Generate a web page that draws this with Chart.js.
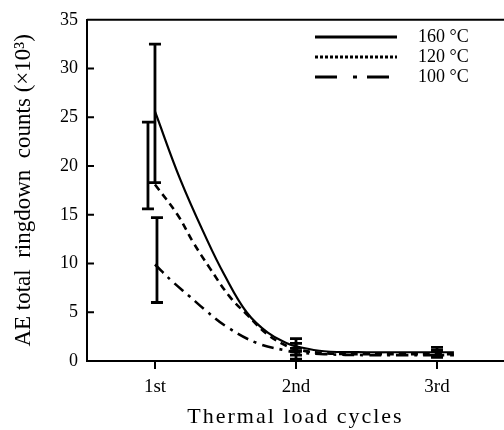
<!DOCTYPE html>
<html lang="en">
<head>
<meta charset="UTF-8">
<title>AE total ringdown counts</title>
<script src="https://cdn.jsdelivr.net/npm/chart.js"></script>
<style>
  body { margin: 0; background: #fff; }
  #wrap { width: 504px; height: 430px; }
</style>
</head>
<body>
<div id="wrap"><canvas id="aeChart" width="504" height="430"></canvas></div>
<script>
// cycles and ticks
const cycleLabels = ['1st', '2nd', '3rd'];
const cycleX = [1, 2, 3];
const yTicks = [0, 5, 10, 15, 20, 25, 30, 35];
const seriesNames = ['160 °C', '120 °C', '100 °C'];

// fitted curves
const curveX160 = [1.00, 1.18, 1.37, 1.49, 1.65, 1.80, 1.94, 2.00, 2.20, 2.50, 2.75, 3.00, 3.12];
const curveY160 = [25.6, 18.6, 12.4, 8.9, 5.0, 2.9, 1.8, 1.5, 1.0, 0.9, 0.9, 0.9, 0.9];
const curveX120 = [1.00, 1.16, 1.27, 1.39, 1.53, 1.65, 1.80, 1.94, 2.00, 2.20, 2.50, 2.75, 3.00, 3.12];
const curveY120 = [18.1, 15.0, 12.2, 9.5, 6.6, 4.8, 2.7, 1.5, 1.2, 0.8, 0.7, 0.7, 0.7, 0.7];
const curveX100 = [1.00, 1.12, 1.24, 1.35, 1.51, 1.73, 1.92, 2.00, 2.20, 2.50, 2.75, 3.00, 3.12];
const curveY100 = [9.9, 8.2, 6.7, 5.3, 3.5, 1.8, 1.1, 0.9, 0.7, 0.6, 0.6, 0.6, 0.6];

// error bar ranges at each cycle
const low160 = [18.3, 1.0, 0.5];
const high160 = [32.5, 2.3, 1.4];
const low120 = [15.6, 0.6, 0.4];
const high120 = [24.5, 1.8, 1.1];
const low100 = [6.0, 0.2, 0.4];
const high100 = [14.7, 1.3, 1.0];

const serif = 'Liberation Serif';

function pts(xs, ys) {
    return xs.map((v, i) => ({ x: v, y: ys[i] }));
}

const aeDecor = {
    id: 'aeDecor',
    afterDatasetsDraw(chart) {
        const { ctx, scales: { x, y } } = chart;
        ctx.save();
        ctx.strokeStyle = '#000';
        ctx.lineWidth = 2.8;
        chart.data.datasets.forEach(ds => {
            ds.errLow.forEach((lo, i) => {
                const px = x.getPixelForValue(cycleX[i]) + (i === 0 ? ds.errShift : 0);
                const y1 = y.getPixelForValue(lo);
                const y2 = y.getPixelForValue(ds.errHigh[i]);
                ctx.beginPath();
                ctx.moveTo(px, y1); ctx.lineTo(px, y2);
                ctx.moveTo(px - 6, y1); ctx.lineTo(px + 6, y1);
                ctx.moveTo(px - 6, y2); ctx.lineTo(px + 6, y2);
                ctx.stroke();
            });
        });
        ctx.restore();
    },
    afterDraw(chart) {
        const { ctx, chartArea: a, scales: { y } } = chart;
        ctx.save();
        ctx.strokeStyle = '#000';
        ctx.lineWidth = 2;
        ctx.beginPath();
        ctx.moveTo(a.left, a.top);
        ctx.lineTo(a.right, a.top);
        // y ticks point inward
        yTicks.forEach(v => {
            const py = y.getPixelForValue(v);
            ctx.moveTo(a.left, py);
            ctx.lineTo(a.left + 7, py);
        });
        ctx.stroke();

        // legend in the upper right
        ctx.fillStyle = '#000';
        ctx.font = '18px "' + serif + '"';
        ctx.textBaseline = 'middle';
        chart.data.datasets.forEach((ds, i) => {
            const ly = 37 + i * 20;
            ctx.lineWidth = 3;
            ctx.setLineDash(ds.legendDash);
            ctx.beginPath();
            ctx.moveTo(315, ly);
            ctx.lineTo(397, ly);
            ctx.stroke();
            ctx.setLineDash([]);
            ctx.fillText(ds.label, 418, ly);
        });

        // x axis title, spaced out like the original
        ctx.font = '22px "' + serif + '"';
        ctx.textAlign = 'center';
        ctx.letterSpacing = '2px';
        ctx.fillText('Thermal load cycles', (a.left + a.right) / 2, 417);
        ctx.restore();
    }
};

const ctx = document.getElementById('aeChart').getContext('2d');
const chart = new Chart(ctx, {
    type: 'line',
    data: {
        datasets: [
            {
                label: seriesNames[0],
                data: pts(curveX160, curveY160),
                borderColor: '#000',
                borderWidth: 2.2,
                errLow: low160, errHigh: high160, errShift: 0,
                legendDash: []
            },
            {
                label: seriesNames[1],
                data: pts(curveX120, curveY120),
                borderColor: '#000',
                borderWidth: 2.6,
                borderDash: [7, 5],
                errLow: low120, errHigh: high120, errShift: -7,
                legendDash: [3, 2]
            },
            {
                label: seriesNames[2],
                data: pts(curveX100, curveY100),
                borderColor: '#000',
                borderWidth: 2.6,
                borderDash: [12, 6, 3, 6],
                errLow: low100, errHigh: high100, errShift: 2,
                legendDash: [22, 16, 4, 10]
            }
        ]
    },
    options: {
        responsive: false,
        animation: false,
        layout: { padding: { top: 13, left: 0, right: 0, bottom: 0 } },
        elements: {
            point: { radius: 0 },
            line: { tension: 0.4 }
        },
        plugins: {
            legend: { display: false },
            tooltip: { enabled: false }
        },
        scales: {
            x: {
                type: 'linear',
                min: 0.518,
                max: 3.475,
                afterBuildTicks: scale => {
                    scale.ticks = cycleX.map(v => ({ value: v }));
                },
                afterFit: scale => { scale.height = 69; },
                ticks: {
                    callback: (v) => cycleLabels[cycleX.indexOf(v)],
                    color: '#000',
                    font: { family: serif, size: 19 },
                    padding: 7,
                    maxRotation: 0
                },
                grid: {
                    drawOnChartArea: false,
                    drawTicks: true,
                    tickLength: 8,
                    color: '#000',
                    lineWidth: 2
                },
                border: { color: '#000', width: 2 }
            },
            y: {
                min: 0,
                max: 35,
                afterBuildTicks: scale => {
                    scale.ticks = yTicks.map(v => ({ value: v }));
                },
                afterFit: scale => { scale.width = 87; },
                ticks: {
                    color: '#000',
                    font: { family: serif, size: 18 },
                    padding: 9
                },
                grid: { display: false, drawTicks: false },
                border: { display: true, color: '#000', width: 2 },
                title: {
                    display: true,
                    text: 'AE total  ringdown  counts (×10³)',
                    color: '#000',
                    font: { family: serif, size: 23 },
                    padding: { top: 10, bottom: 0 }
                }
            }
        }
    },
    plugins: [aeDecor]
});
</script>
</body>
</html>
